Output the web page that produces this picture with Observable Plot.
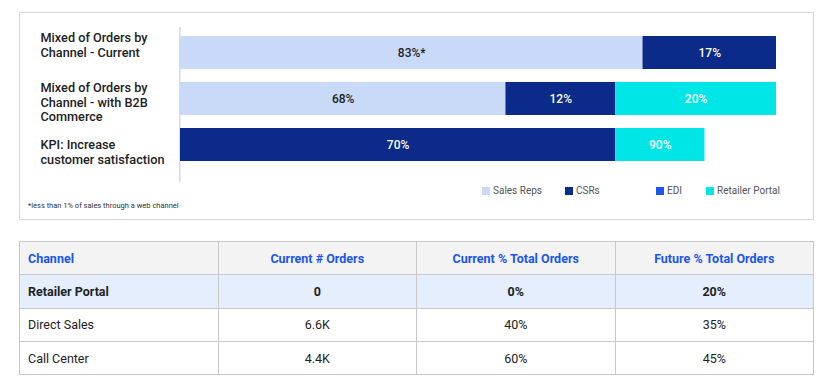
<!DOCTYPE html>
<html>
<head>
<meta charset="utf-8">
<script src="https://cdn.jsdelivr.net/npm/d3@7"></script>
<script src="https://cdn.jsdelivr.net/npm/@observablehq/plot@0.6"></script>
<style>
  body { margin: 0; background: #fff; font-family: Roboto, "Noto Sans", sans-serif; }
  #page { position: relative; width: 830px; height: 391px; overflow: hidden; }
  #box { position: absolute; left: 19px; top: 12px; width: 795px; height: 208px; box-sizing: border-box; border: 1.5px solid #d6d6d6; }
  #chart { position: absolute; left: 0; top: 0; }
  #chart svg { display: block; }
  .lg { position: absolute; top: 185px; font-size: 10px; color: #555; line-height: 12px; white-space: nowrap; display: flex; align-items: center; }
  .lg i { display: inline-block; width: 8px; height: 8px; margin-right: 3px; }
  #foot { position: absolute; left: 28px; top: 201px; font-size: 7.5px; color: #333; white-space: nowrap; }
  table { position: absolute; left: 19px; top: 241px; width: 795px; border-collapse: collapse; table-layout: fixed; font-size: 12.5px; color: #222; }
  th, td { border: 1.5px solid #c8c8c8; padding: 0; text-align: center; }
  tr { height: 33.3px; }
  th { background: #f3f3f3; color: #1a55f0; font-weight: 700; }
  th:first-child, td:first-child { text-align: left; padding-left: 8px; }
  tr.hl td { background: #e4eefd; font-weight: 700; }
</style>
</head>
<body>
<div id="page">
  <div id="box"></div>
  <div id="chart"></div>
  <div id="legend"></div>
  <div id="foot"></div>
  <table id="tbl"></table>
</div>
<script>
// ---- data ----
const rowKeys = ["current", "b2b", "kpi"];
const rowLabels = [
  "Mixed of Orders by\nChannel - Current",
  "Mixed of Orders by\nChannel - with B2B\nCommerce",
  "KPI: Increase\ncustomer satisfaction"
];
const seriesNames = ["Sales Reps", "CSRs", "EDI", "Retailer Portal"];
// segment lengths (share of the full bar span)
const salesReps = [77.6, 54.6, 0];
const csrs = [22.4, 18.4, 73.0];
const edi = [0, 0, 0];
const retailerPortal = [0, 27.0, 15.0];
// printed labels
const salesRepsText = ["83%*", "68%", ""];
const csrsText = ["17%", "12%", "70%"];
const ediText = ["", "", ""];
const retailerPortalText = ["", "20%", "90%"];
const footnote = "*less than 1% of sales through a web channel";

const tableHeader = ["Channel", "Current # Orders", "Current % Total Orders", "Future % Total Orders"];
const channels = ["Retailer Portal", "Direct Sales", "Call Center"];
const currentOrders = ["0", "6.6K", "4.4K"];
const currentPct = ["0%", "40%", "60%"];
const futurePct = ["20%", "35%", "45%"];

// ---- build ----
const seriesValues = [salesReps, csrs, edi, retailerPortal];
const seriesTexts = [salesRepsText, csrsText, ediText, retailerPortalText];
const data = [];
rowKeys.forEach((row, i) => {
  seriesNames.forEach((s, j) => {
    data.push({row, series: s, value: seriesValues[j][i], label: seriesTexts[j][i]});
  });
});

const palette = ["#c9daf8", "#0b2a8a", "#1a56ee", "#00e5e5"];
const labelShift = [-8, 3, 7];

const plot = Plot.plot({
  width: 830,
  height: 200,
  marginLeft: 180,
  marginRight: 54,
  marginTop: 27,
  marginBottom: 18,
  x: {domain: [0, 100], axis: null},
  y: {domain: rowKeys, range: [22.8, 174.6], paddingInner: 0.286, paddingOuter: 0.286, axis: null},
  color: {domain: seriesNames, range: palette},
  style: {fontFamily: "Roboto, sans-serif", background: "transparent", overflow: "visible"},
  marks: [
    Plot.ruleX([0], {stroke: "#cfcfcf", strokeWidth: 1.2, dx: -0.6}),
    Plot.barX(data, Plot.stackX({x: "value", y: "row", fill: "series"})),
    Plot.text(data, Plot.stackX({
      x: "value", y: "row", z: "series",
      text: d => d.series === "Sales Reps" ? d.label : "",
      fill: "#222", fontSize: 12, fontWeight: 500
    })),
    Plot.text(data, Plot.stackX({
      x: "value", y: "row", z: "series",
      text: d => d.series !== "Sales Reps" ? d.label : "",
      fill: "#ffffff", fontSize: 12, fontWeight: 500
    })),
    ...rowKeys.map((k, i) => Plot.text([i], {
      y: d => rowKeys[d], text: d => rowLabels[d],
      frameAnchor: "left", textAnchor: "start", dx: -140, dy: labelShift[i],
      fontSize: 12.7, fontWeight: 500, lineHeight: 1.15, fill: "#222"
    }))
  ]
});
document.getElementById("chart").appendChild(plot);

// legend
const legendLeft = [482, 565, 656, 706];
const lg = document.getElementById("legend");
seriesNames.forEach((s, j) => {
  const d = document.createElement("div");
  d.className = "lg";
  d.style.left = legendLeft[j] + "px";
  const sw = document.createElement("i");
  sw.style.background = palette[j];
  d.appendChild(sw);
  d.appendChild(document.createTextNode(s));
  lg.appendChild(d);
});

document.getElementById("foot").textContent = footnote;

// table
const tbl = document.getElementById("tbl");
const hr = document.createElement("tr");
tableHeader.forEach(h => { const th = document.createElement("th"); th.textContent = h; hr.appendChild(th); });
tbl.appendChild(hr);
channels.forEach((c, i) => {
  const tr = document.createElement("tr");
  if (i === 0) tr.className = "hl";
  [c, currentOrders[i], currentPct[i], futurePct[i]].forEach(v => {
    const td = document.createElement("td"); td.textContent = v; tr.appendChild(td);
  });
  tbl.appendChild(tr);
});
</script>
</body>
</html>
